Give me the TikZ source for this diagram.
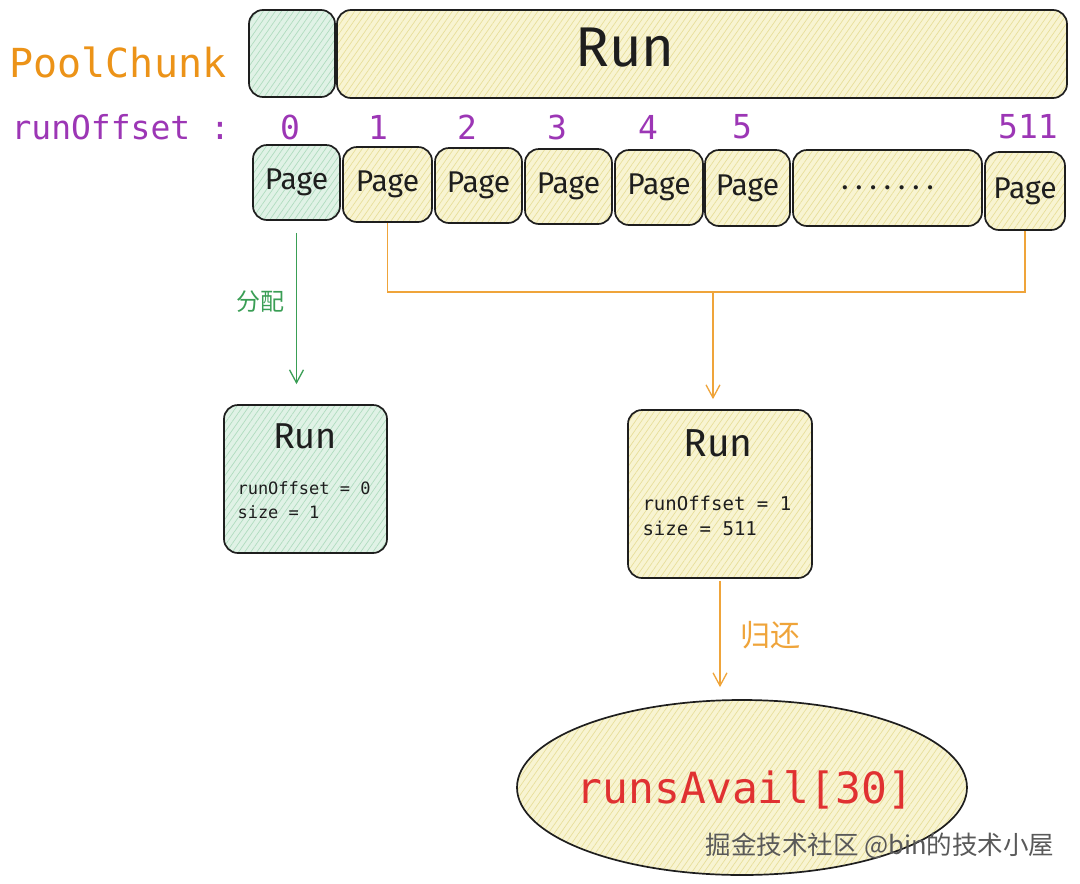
\documentclass[tikz,border=0pt]{standalone}
\usepackage{fontspec}
\setmainfont{Fira Sans}
\setmonofont{DejaVu Sans Mono}
\newfontfamily\cjk{Noto Sans CJK SC}
\usetikzlibrary{arrows.meta,shapes.geometric,patterns.meta}
\definecolor{ink}{HTML}{1E1E1E}
\definecolor{yfill}{HTML}{F8F4D2}
\definecolor{yhatch}{HTML}{E8DF9A}
\definecolor{gfill}{HTML}{E0F2E6}
\definecolor{ghatch}{HTML}{B0DCBF}
\definecolor{orangeT}{HTML}{EC9318}
\definecolor{purpleT}{HTML}{9C36B5}
\definecolor{greenA}{HTML}{3A9E55}
\definecolor{orangeA}{HTML}{EFA43A}
\definecolor{redT}{HTML}{E03131}
\begin{document}
\begin{tikzpicture}[x=1pt,y=-1pt,
  box/.style={draw=ink, line width=1.7pt, rounded corners=14pt, inner sep=0pt},
  ybox/.style={box, preaction={fill=yfill}, preaction={pattern={Lines[angle=55,distance=5pt,line width=0.7pt]}, pattern color=yhatch}},
  gbox/.style={box, preaction={fill=gfill}, preaction={pattern={Lines[angle=55,distance=5pt,line width=0.7pt]}, pattern color=ghatch}},
  pg/.style={font=\fontsize{30}{34}\selectfont, text=ink},
  num/.style={font=\ttfamily\fontsize{33}{38}\selectfont, text=purpleT},
  small/.style={font=\ttfamily\fontsize{17}{21}\selectfont, text=ink, anchor=west},
  smally/.style={font=\ttfamily\fontsize{19}{23}\selectfont, text=ink, anchor=west},
  oline/.style={draw=orangeA, line width=1.3pt},
  oarrow/.style={oline, -{Straight Barb[length=13pt,width=14pt,line width=1.3pt]}},
  garrow/.style={draw=greenA, line width=1.3pt, -{Straight Barb[length=13pt,width=14pt,line width=1.3pt]}}
]
\useasboundingbox (0,0) rectangle (1080,884);
\fill[white] (0,0) rectangle (1080,884);

% top row
\node[font=\ttfamily\fontsize{40}{46}\selectfont, text=orangeT, anchor=west] (pc) at (6,62) {PoolChunk};
\node[gbox, minimum width=86pt, minimum height=87pt] (g0) at (292,53.5) {};
\node[ybox, minimum width=730pt, minimum height=88pt] (rb) at (702,54) {};
\node[font=\fontsize{56}{62}\selectfont, text=ink] (rbl) at (625,48) {Run};

% runOffset labels
\node[font=\ttfamily\fontsize{33}{38}\selectfont, text=purpleT, anchor=west] (ro) at (8,127) {runOffset :};
\node[num] (n0) at (290,127) {0};
\node[num] (n1) at (378,127) {1};
\node[num] (n2) at (467,127) {2};
\node[num] (n3) at (557,127) {3};
\node[num] (n4) at (648,127) {4};
\node[num] (n5) at (742,127) {5};
\node[num] (n511) at (1028,127) {511};

% pages
\node[gbox, pg, minimum width=87pt, minimum height=75pt] (p0) at (296.5,182.5) {Page};
\node[ybox, pg, minimum width=89pt, minimum height=75pt] (p1) at (387.5,184.5) {Page};
\node[ybox, pg, minimum width=87pt, minimum height=75pt] (p2) at (478.5,185.5) {Page};
\node[ybox, pg, minimum width=87pt, minimum height=75pt] (p3) at (568.5,186.5) {Page};
\node[ybox, pg, minimum width=88pt, minimum height=75pt] (p4) at (659,187.5) {Page};
\node[ybox, pg, minimum width=85pt, minimum height=76pt] (p5) at (747.5,188) {Page};
\node[ybox, pg, minimum width=189pt, minimum height=76pt] (pd) at (887.5,188) {.\hspace{7pt}.\hspace{7pt}.\hspace{7pt}.\hspace{7pt}.\hspace{7pt}.\hspace{7pt}.};
\node[ybox, pg, minimum width=80pt, minimum height=78pt] (p511) at (1025,191) {Page};

% run boxes
\node[gbox, minimum width=163pt, minimum height=148pt] (grun) at (305.5,479) {};
\node[font=\fontsize{36}{40}\selectfont, text=ink] (grunt) at (305,436) {Run};
\node[small] (gl1) at (234,488) {runOffset = 0};
\node[small] (gl2) at (234,512) {size = 1};

\node[ybox, minimum width=184pt, minimum height=168pt] (yrun) at (720,494) {};
\node[font=\fontsize{39}{44}\selectfont, text=ink] (yrunt) at (718,443) {Run};
\node[smally] (yl1) at (639,503) {runOffset = 1};
\node[smally] (yl2) at (639,528) {size = 511};

% pool ellipse
\node[ybox, ellipse, minimum width=450pt, minimum height=175pt] (pool) at (742,787.5) {};
\node[font=\ttfamily\fontsize{43}{48}\selectfont, text=redT] (poolt) at (745,790) {runsAvail[30]};

% connectors
\draw[garrow, shorten <=12pt, shorten >=20pt] (p0.south) -- (p0.south |- grun.north);
\node[font=\cjk\fontsize{24}{28}\selectfont, text=greenA] (alloc) at (260,302) {分配};

\coordinate (om) at (713,292);
\draw[oline] (p1.south) -- (p1.south |- om) -- (p511.south |- om) -- (p511.south);
\draw[oarrow, shorten >=10pt] (om) -- (om |- yrun.north);

\draw[oarrow, shorten <=2pt, shorten >=12pt] (yrun.south) -- (yrun.south |- pool.north);
\node[font=\cjk\fontsize{30}{34}\selectfont, text=orangeA] (ret) at (770,635) {归还};

% watermark
\node[font=\cjk\fontsize{25.5}{28}\selectfont, text=black!65, anchor=west] (wm) at (702,846) {掘金技术社区 @bin的技术小屋};
\end{tikzpicture}
\end{document}
